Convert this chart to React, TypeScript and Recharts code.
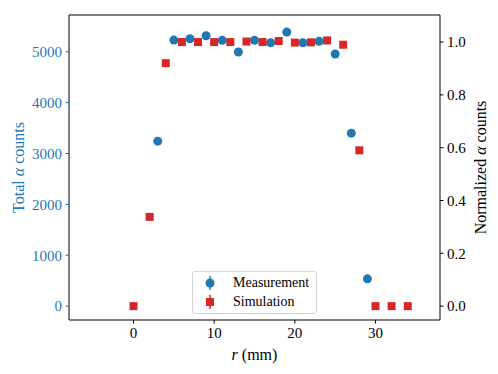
import { ScatterChart, Scatter, XAxis, YAxis, ReferenceArea } from 'recharts';

const measR = [3, 5, 7, 9, 11, 13, 15, 17, 19, 21, 23, 25, 27, 29];
const measCounts = [3243, 5229, 5255, 5314, 5224, 4994, 5224, 5176, 5386, 5176, 5204, 4955, 3400, 537];

const simR = [0, 2, 4, 6, 8, 10, 12, 14, 16, 18, 20, 22, 24, 26, 28, 30, 32, 34];
const simNorm = [0, 0.338, 0.92, 1.0, 1.0, 1.0, 1.0, 1.002, 1.0, 1.004, 0.998, 0.999, 1.006, 0.99, 0.59, 0, 0, 0];

const xTicks = [0, 10, 20, 30];
const leftTicks = [0, 1000, 2000, 3000, 4000, 5000];
const rightTicks = [0, 0.2, 0.4, 0.6, 0.8, 1.0];

const BLUE = '#1f77b4';
const RED = '#d62728';
const FONT = '"Liberation Serif", serif';

const measData = measR.map((r, i) => ({ r, y: measCounts[i] }));
const simData = simR.map((r, i) => ({ r, y: simNorm[i] }));

const X_DOMAIN: [number, number] = [-8, 38];
const L_DOMAIN: [number, number] = [-272, 5722];
const R_DOMAIN: [number, number] = [-0.0525, 1.1025];

const Dot = (p: any) => <circle cx={p.cx} cy={p.cy} r={4.5} fill={BLUE} />;
const Square = (p: any) => <rect x={p.cx - 4} y={p.cy - 4} width={8} height={8} fill={RED} />;

// legend drawn as an overlay, recharts' Legend would steal plot space
function LegendBox() {
  const row = (color: string, square: boolean, text: string) => (
    <div style={{ display: 'flex', alignItems: 'center', height: 19 }}>
      <svg width={30} height={18}>
        <line x1={17} x2={17} y1={2} y2={16} stroke={color} strokeWidth={1.5} />
        {square ? (
          <rect x={13} y={5} width={8} height={8} fill={color} />
        ) : (
          <circle cx={17} cy={9} r={4.5} fill={color} />
        )}
      </svg>
      <span style={{ marginLeft: 10 }}>{text}</span>
    </div>
  );
  return (
    <div
      style={{
        position: 'absolute',
        left: 192,
        top: 271,
        width: 123,
        height: 40,
        border: '1px solid #d6d6d6',
        borderRadius: 3,
        background: 'rgba(255,255,255,0.8)',
        fontFamily: FONT,
        fontSize: 14,
        color: '#000',
        paddingTop: 1,
        boxSizing: 'content-box',
      }}
    >
      {row(BLUE, false, 'Measurement')}
      {row(RED, true, 'Simulation')}
    </div>
  );
}

export default function App() {
  const tick = { fontFamily: FONT, fontSize: 15, fill: '#000' };
  return (
    <div style={{ position: 'absolute', left: 0, top: 0, width: 498, height: 374, background: '#fff' }}>
      <ScatterChart width={498} height={374} margin={{ top: 15, right: 0, bottom: 0, left: 0 }}>
        <XAxis
          type="number"
          dataKey="r"
          domain={X_DOMAIN}
          allowDataOverflow
          ticks={xTicks}
          height={54}
          tick={tick}
          tickSize={3.5}
          tickMargin={4}
          tickLine={{ stroke: '#000' }}
          axisLine={false}
          label={{
            content: (p: any) => (
              <text
                x={p.viewBox.x + p.viewBox.width / 2}
                y={p.viewBox.y + 40}
                textAnchor="middle"
                fontFamily={FONT}
                fontSize={16}
                fill="#000"
              >
                <tspan fontStyle="italic">r</tspan> (mm)
              </text>
            ),
          }}
        />
        <YAxis
          yAxisId="left"
          type="number"
          dataKey="y"
          domain={L_DOMAIN}
          allowDataOverflow
          ticks={leftTicks}
          width={69}
          tick={{ ...tick, fill: BLUE }}
          tickSize={3.5}
          tickMargin={3.5}
          tickLine={{ stroke: BLUE }}
          axisLine={false}
          label={{
            content: (p: any) => {
              const cx = 18;
              const cy = p.viewBox.y + p.viewBox.height / 2;
              return (
                <text
                  x={cx}
                  y={cy}
                  transform={`rotate(-90 ${cx} ${cy})`}
                  textAnchor="middle"
                  dominantBaseline="central"
                  fontFamily={FONT}
                  fontSize={16}
                  fill={BLUE}
                >
                  Total <tspan fontStyle="italic">α</tspan> counts
                </text>
              );
            },
          }}
        />
        <YAxis
          yAxisId="right"
          orientation="right"
          type="number"
          dataKey="y"
          domain={R_DOMAIN}
          allowDataOverflow
          ticks={rightTicks}
          tickFormatter={(v: number) => v.toFixed(1)}
          width={58}
          tick={tick}
          tickSize={3.5}
          tickMargin={3.5}
          tickLine={{ stroke: '#000' }}
          axisLine={false}
          label={{
            content: (p: any) => {
              const cx = 480;
              const cy = p.viewBox.y + p.viewBox.height / 2;
              return (
                <text
                  x={cx}
                  y={cy}
                  transform={`rotate(-90 ${cx} ${cy})`}
                  textAnchor="middle"
                  dominantBaseline="central"
                  fontFamily={FONT}
                  fontSize={16}
                  fill="#000"
                >
                  Normalized <tspan fontStyle="italic">α</tspan> counts
                </text>
              );
            },
          }}
        />
        <ReferenceArea
          yAxisId="left"
          x1={X_DOMAIN[0]}
          x2={X_DOMAIN[1]}
          y1={L_DOMAIN[0]}
          y2={L_DOMAIN[1]}
          fill="none"
          stroke="#000"
          strokeWidth={1}
          fillOpacity={0}
        />
        <Scatter yAxisId="left" data={measData} shape={Dot} isAnimationActive={false} />
        <Scatter yAxisId="right" data={simData} shape={Square} isAnimationActive={false} />
      </ScatterChart>
      <LegendBox />
    </div>
  );
}
